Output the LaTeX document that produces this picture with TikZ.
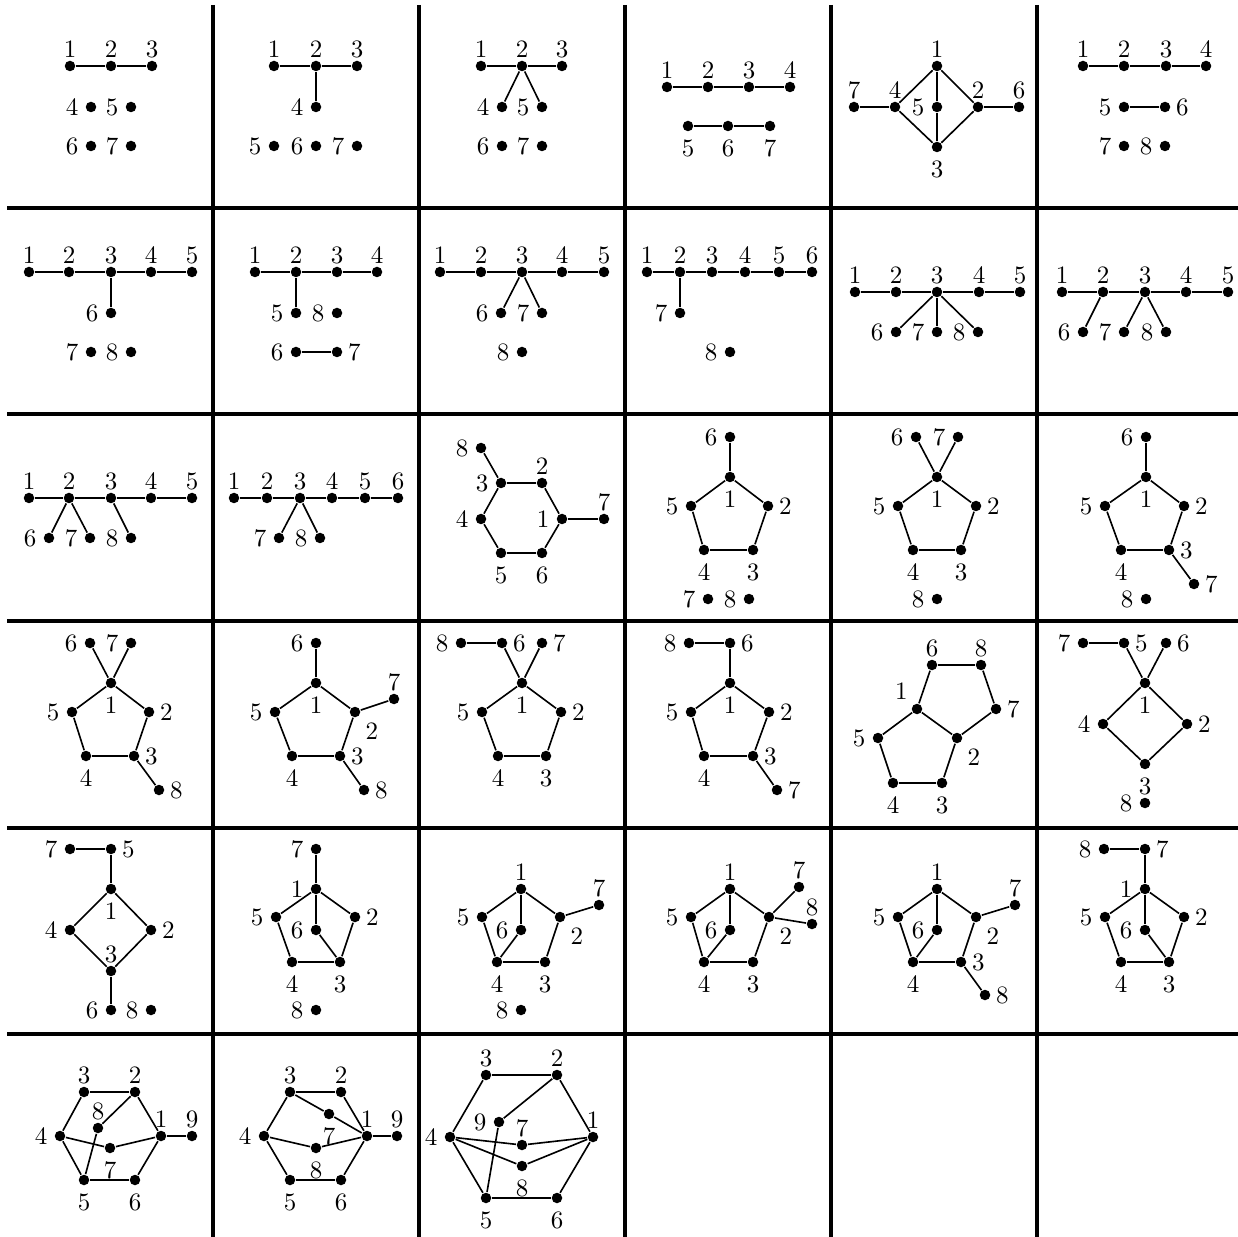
\documentclass[tikz,border=0pt]{standalone}
\usepackage{tikz}
\usetikzlibrary{positioning}

\begin{document}
\begin{tikzpicture}[x=0.4pt, y=-0.4pt, line width=0.65pt]
\tikzstyle{vx}=[circle, fill=black, inner sep=0pt, minimum size=4.2pt]
\tikzstyle{lu}=[label={[inner sep=0.5pt]above:#1}]
\tikzstyle{ld}=[label={[inner sep=2.7pt]below:#1}]
\tikzstyle{ll}=[label={[inner sep=2.3pt]left:#1}]
\tikzstyle{lr}=[label={[inner sep=1.7pt]right:#1}]
\tikzstyle{ldr}=[label={[inner sep=2.2pt]below right:#1}]
\tikzstyle{lul}=[label={[inner sep=1.7pt]above left:#1}]
\tikzstyle{grid}=[line width=1.5pt]
\useasboundingbox (0,0) rectangle (1238,1237);
% grid
\foreach \gx in {213,419,625,831,1037} \draw[grid] (\gx,5) -- (\gx,1237);
\foreach \gy in {208,414,621,828,1034} \draw[grid] (7,\gy) -- (1238,\gy);
% row 1
\begin{scope}[name prefix=g11-]
\node[vx,lu=1] (1) at (70,66) {};
\node[vx,lu=2] (2) at (111,66) {};
\node[vx,lu=3] (3) at (152,66) {};
\node[vx,ll=4] (4) at (91,107) {};
\node[vx,ll=5] (5) at (131,107) {};
\node[vx,ll=6] (6) at (91,146) {};
\node[vx,ll=7] (7) at (131,146) {};
\draw (1) -- (2) -- (3);
\end{scope}
\begin{scope}[name prefix=g12-]
\node[vx,lu=1] (1) at (274,66) {};
\node[vx,lu=2] (2) at (316,66) {};
\node[vx,lu=3] (3) at (357,66) {};
\node[vx,ll=4] (4) at (316,107) {};
\node[vx,ll=5] (5) at (274,146) {};
\node[vx,ll=6] (6) at (316,146) {};
\node[vx,ll=7] (7) at (357,146) {};
\draw (1) -- (2) -- (3);
\draw (2) -- (4);
\end{scope}
\begin{scope}[name prefix=g13-]
\node[vx,lu=1] (1) at (481,66) {};
\node[vx,lu=2] (2) at (522,66) {};
\node[vx,lu=3] (3) at (562,66) {};
\node[vx,ll=4] (4) at (502,107) {};
\node[vx,ll=5] (5) at (542,107) {};
\node[vx,ll=6] (6) at (502,146) {};
\node[vx,ll=7] (7) at (542,146) {};
\draw (1) -- (2) -- (3);
\draw (4) -- (2) -- (5);
\end{scope}
\begin{scope}[name prefix=g14-]
\node[vx,lu=1] (1) at (667,87) {};
\node[vx,lu=2] (2) at (708,87) {};
\node[vx,lu=3] (3) at (749,87) {};
\node[vx,lu=4] (4) at (790,87) {};
\node[vx,ld=5] (5) at (688,126) {};
\node[vx,ld=6] (6) at (728,126) {};
\node[vx,ld=7] (7) at (770,126) {};
\draw (1) -- (2) -- (3) -- (4);
\draw (5) -- (6) -- (7);
\end{scope}
\begin{scope}[name prefix=g15-]
\node[vx,lu=1] (1) at (937,66) {};
\node[vx,lu=7] (7) at (854,107) {};
\node[vx,lu=4] (4) at (895,107) {};
\node[vx,ll=5] (5) at (937,107) {};
\node[vx,lu=2] (2) at (978,107) {};
\node[vx,lu=6] (6) at (1019,107) {};
\node[vx,ld=3] (3) at (937,147) {};
\draw (7) -- (4) -- (1) -- (2) -- (6);
\draw (4) -- (3) -- (2);
\draw (1) -- (5) -- (3);
\end{scope}
\begin{scope}[name prefix=g16-]
\node[vx,lu=1] (1) at (1083,66) {};
\node[vx,lu=2] (2) at (1124,66) {};
\node[vx,lu=3] (3) at (1166,66) {};
\node[vx,lu=4] (4) at (1206,66) {};
\node[vx,ll=5] (5) at (1124,107) {};
\node[vx,lr=6] (6) at (1165,107) {};
\node[vx,ll=7] (7) at (1124,146) {};
\node[vx,ll=8] (8) at (1165,146) {};
\draw (1) -- (2) -- (3) -- (4);
\draw (5) -- (6);
\end{scope}
% row 2
\begin{scope}[name prefix=g21-]
\node[vx,lu=1] (1) at (29,272) {};
\node[vx,lu=2] (2) at (69,272) {};
\node[vx,lu=3] (3) at (111,272) {};
\node[vx,lu=4] (4) at (151,272) {};
\node[vx,lu=5] (5) at (192,272) {};
\node[vx,ll=6] (6) at (111,313) {};
\node[vx,ll=7] (7) at (91,352) {};
\node[vx,ll=8] (8) at (131,352) {};
\draw (1) -- (2) -- (3) -- (4) -- (5);
\draw (3) -- (6);
\end{scope}
\begin{scope}[name prefix=g22-]
\node[vx,lu=1] (1) at (255,272) {};
\node[vx,lu=2] (2) at (296,272) {};
\node[vx,lu=3] (3) at (337,272) {};
\node[vx,lu=4] (4) at (377,272) {};
\node[vx,ll=5] (5) at (296,313) {};
\node[vx,ll=8] (8) at (337,313) {};
\node[vx,ll=6] (6) at (296,352) {};
\node[vx,lr=7] (7) at (337,352) {};
\draw (1) -- (2) -- (3) -- (4);
\draw (2) -- (5);
\draw (6) -- (7);
\end{scope}
\begin{scope}[name prefix=g23-]
\node[vx,lu=1] (1) at (440,272) {};
\node[vx,lu=2] (2) at (481,272) {};
\node[vx,lu=3] (3) at (522,272) {};
\node[vx,lu=4] (4) at (562,272) {};
\node[vx,lu=5] (5) at (604,272) {};
\node[vx,ll=6] (6) at (501,313) {};
\node[vx,ll=7] (7) at (542,313) {};
\node[vx,ll=8] (8) at (522,352) {};
\draw (1) -- (2) -- (3) -- (4) -- (5);
\draw (6) -- (3) -- (7);
\end{scope}
\begin{scope}[name prefix=g24-]
\node[vx,lu=1] (1) at (647,272) {};
\node[vx,lu=2] (2) at (680,272) {};
\node[vx,lu=3] (3) at (712,272) {};
\node[vx,lu=4] (4) at (745,272) {};
\node[vx,lu=5] (5) at (779,272) {};
\node[vx,lu=6] (6) at (812,272) {};
\node[vx,ll=7] (7) at (680,313) {};
\node[vx,ll=8] (8) at (730,352) {};
\draw (1) -- (2) -- (3) -- (4) -- (5) -- (6);
\draw (2) -- (7);
\end{scope}
\begin{scope}[name prefix=g25-]
\node[vx,lu=1] (1) at (855,292) {};
\node[vx,lu=2] (2) at (896,292) {};
\node[vx,lu=3] (3) at (937,292) {};
\node[vx,lu=4] (4) at (979,292) {};
\node[vx,lu=5] (5) at (1020,292) {};
\node[vx,ll=6] (6) at (896,332) {};
\node[vx,ll=7] (7) at (937,332) {};
\node[vx,ll=8] (8) at (978,332) {};
\draw (1) -- (2) -- (3) -- (4) -- (5);
\draw (6) -- (3) -- (7);
\draw (3) -- (8);
\end{scope}
\begin{scope}[name prefix=g26-]
\node[vx,lu=1] (1) at (1062,292) {};
\node[vx,lu=2] (2) at (1103,292) {};
\node[vx,lu=3] (3) at (1145,292) {};
\node[vx,lu=4] (4) at (1186,292) {};
\node[vx,lu=5] (5) at (1228,292) {};
\node[vx,ll=6] (6) at (1083,332) {};
\node[vx,ll=7] (7) at (1124,332) {};
\node[vx,ll=8] (8) at (1166,332) {};
\draw (1) -- (2) -- (3) -- (4) -- (5);
\draw (2) -- (6);
\draw (7) -- (3) -- (8);
\end{scope}
% row 3
\begin{scope}[name prefix=g31-]
\node[vx,lu=1] (1) at (29,498) {};
\node[vx,lu=2] (2) at (69,498) {};
\node[vx,lu=3] (3) at (111,498) {};
\node[vx,lu=4] (4) at (151,498) {};
\node[vx,lu=5] (5) at (192,498) {};
\node[vx,ll=6] (6) at (49,538) {};
\node[vx,ll=7] (7) at (90,538) {};
\node[vx,ll=8] (8) at (131,538) {};
\draw (1) -- (2) -- (3) -- (4) -- (5);
\draw (6) -- (2) -- (7);
\draw (3) -- (8);
\end{scope}
\begin{scope}[name prefix=g32-]
\node[vx,lu=1] (1) at (234,498) {};
\node[vx,lu=2] (2) at (267,498) {};
\node[vx,lu=3] (3) at (300,498) {};
\node[vx,lu=4] (4) at (332,498) {};
\node[vx,lu=5] (5) at (365,498) {};
\node[vx,lu=6] (6) at (398,498) {};
\node[vx,ll=7] (7) at (279,538) {};
\node[vx,ll=8] (8) at (320,538) {};
\draw (1) -- (2) -- (3) -- (4) -- (5) -- (6);
\draw (7) -- (3) -- (8);
\end{scope}
\begin{scope}[name prefix=g33-]
\node[vx,ll=8] (8) at (481,448) {};
\node[vx,ll=3] (3) at (501,483) {};
\node[vx,lu=2] (2) at (542,483) {};
\node[vx,ll=4] (4) at (481,519) {};
\node[vx,ll=1] (1) at (562,519) {};
\node[vx,lu=7] (7) at (604,519) {};
\node[vx,ld=5] (5) at (501,553) {};
\node[vx,ld=6] (6) at (542,553) {};
\draw (8) -- (3);
\draw (3) -- (2) -- (1) -- (6) -- (5) -- (4) -- (3);
\draw (1) -- (7);
\end{scope}
\begin{scope}[name prefix=g34-]
\node[vx,ll=6] (6) at (730,437) {};
\node[vx,ld=1] (1) at (730,477) {};
\node[vx,ll=5] (5) at (691,506) {};
\node[vx,lr=2] (2) at (768,506) {};
\node[vx,ld=4] (4) at (704,550) {};
\node[vx,ld=3] (3) at (753,550) {};
\node[vx,ll=7] (7) at (708,599) {};
\node[vx,ll=8] (8) at (749,599) {};
\draw (6) -- (1);
\draw (1) -- (2) -- (3) -- (4) -- (5) -- (1);
\end{scope}
\begin{scope}[name prefix=g35-]
\node[vx,ll=6] (6) at (916,437) {};
\node[vx,ll=7] (7) at (958,437) {};
\node[vx,ld=1] (1) at (937,477) {};
\node[vx,ll=5] (5) at (898,506) {};
\node[vx,lr=2] (2) at (976,506) {};
\node[vx,ld=4] (4) at (913,550) {};
\node[vx,ld=3] (3) at (961,550) {};
\node[vx,ll=8] (8) at (937,599) {};
\draw (6) -- (1) -- (7);
\draw (1) -- (2) -- (3) -- (4) -- (5) -- (1);
\end{scope}
\begin{scope}[name prefix=g36-]
\node[vx,ll=6] (6) at (1146,437) {};
\node[vx,ld=1] (1) at (1146,477) {};
\node[vx,ll=5] (5) at (1105,506) {};
\node[vx,lr=2] (2) at (1184,506) {};
\node[vx,ld=4] (4) at (1121,550) {};
\node[vx,lr=3] (3) at (1169,550) {};
\node[vx,lr=7] (7) at (1194,584) {};
\node[vx,ll=8] (8) at (1146,599) {};
\draw (6) -- (1);
\draw (1) -- (2) -- (3) -- (4) -- (5) -- (1);
\draw (3) -- (7);
\end{scope}
% row 4
\begin{scope}[name prefix=g41-]
\node[vx,ll=6] (6) at (90,643) {};
\node[vx,ll=7] (7) at (131,643) {};
\node[vx,ld=1] (1) at (111,683) {};
\node[vx,ll=5] (5) at (72,712) {};
\node[vx,lr=2] (2) at (149,712) {};
\node[vx,ld=4] (4) at (86,756) {};
\node[vx,lr=3] (3) at (134,756) {};
\node[vx,lr=8] (8) at (159,790) {};
\draw (6) -- (1) -- (7);
\draw (1) -- (2) -- (3) -- (4) -- (5) -- (1);
\draw (3) -- (8);
\end{scope}
\begin{scope}[name prefix=g42-]
\node[vx,ll=6] (6) at (316,643) {};
\node[vx,ld=1] (1) at (316,683) {};
\node[vx,ll=5] (5) at (275,712) {};
\node[vx,ldr=2] (2) at (355,712) {};
\node[vx,lu=7] (7) at (394,699) {};
\node[vx,ld=4] (4) at (292,756) {};
\node[vx,lr=3] (3) at (340,756) {};
\node[vx,lr=8] (8) at (364,790) {};
\draw (6) -- (1);
\draw (1) -- (2) -- (3) -- (4) -- (5) -- (1);
\draw (2) -- (7);
\draw (3) -- (8);
\end{scope}
\begin{scope}[name prefix=g43-]
\node[vx,ll=8] (8) at (461,643) {};
\node[vx,lr=6] (6) at (502,643) {};
\node[vx,lr=7] (7) at (542,643) {};
\node[vx,ld=1] (1) at (522,683) {};
\node[vx,ll=5] (5) at (482,712) {};
\node[vx,lr=2] (2) at (561,712) {};
\node[vx,ld=4] (4) at (498,756) {};
\node[vx,ld=3] (3) at (546,756) {};
\draw (8) -- (6) -- (1) -- (7);
\draw (1) -- (2) -- (3) -- (4) -- (5) -- (1);
\end{scope}
\begin{scope}[name prefix=g44-]
\node[vx,ll=8] (8) at (689,643) {};
\node[vx,lr=6] (6) at (730,643) {};
\node[vx,ld=1] (1) at (730,683) {};
\node[vx,ll=5] (5) at (691,712) {};
\node[vx,lr=2] (2) at (769,712) {};
\node[vx,ld=4] (4) at (704,756) {};
\node[vx,lr=3] (3) at (753,756) {};
\node[vx,lr=7] (7) at (777,790) {};
\draw (8) -- (6) -- (1);
\draw (1) -- (2) -- (3) -- (4) -- (5) -- (1);
\draw (3) -- (7);
\end{scope}
\begin{scope}[name prefix=g45-]
\node[vx,lu=6] (6) at (932,665) {};
\node[vx,lu=8] (8) at (981,665) {};
\node[vx,lul=1] (1) at (917,709) {};
\node[vx,lr=7] (7) at (996,709) {};
\node[vx,ll=5] (5) at (878,738) {};
\node[vx,ldr=2] (2) at (957,738) {};
\node[vx,ld=4] (4) at (893,783) {};
\node[vx,ld=3] (3) at (942,783) {};
\draw (1) -- (6) -- (8) -- (7) -- (2) -- (1);
\draw (1) -- (5) -- (4) -- (3) -- (2);
\end{scope}
\begin{scope}[name prefix=g46-]
\node[vx,ll=7] (7) at (1083,643) {};
\node[vx,lr=5] (5) at (1124,643) {};
\node[vx,lr=6] (6) at (1166,643) {};
\node[vx,ld=1] (1) at (1145,683) {};
\node[vx,ll=4] (4) at (1103,724) {};
\node[vx,lr=2] (2) at (1187,724) {};
\node[vx,ld=3] (3) at (1145,764) {};
\node[vx,ll=8] (8) at (1145,803) {};
\draw (7) -- (5) -- (1) -- (6);
\draw (1) -- (4) -- (3) -- (2) -- (1);
\end{scope}
% row 5
\begin{scope}[name prefix=g51-]
\node[vx,ll=7] (7) at (70,849) {};
\node[vx,lr=5] (5) at (111,849) {};
\node[vx,ld=1] (1) at (111,889) {};
\node[vx,ll=4] (4) at (70,930) {};
\node[vx,lr=2] (2) at (151,930) {};
\node[vx,lu=3] (3) at (111,971) {};
\node[vx,ll=6] (6) at (111,1010) {};
\node[vx,ll=8] (8) at (151,1010) {};
\draw (7) -- (5) -- (1);
\draw (1) -- (2) -- (3) -- (4) -- (1);
\draw (3) -- (6);
\end{scope}
\begin{scope}[name prefix=g52-]
\node[vx,ll=7] (7) at (316,849) {};
\node[vx,ll=1] (1) at (316,889) {};
\node[vx,ll=5] (5) at (276,917) {};
\node[vx,lr=2] (2) at (355,917) {};
\node[vx,ll=6] (6) at (316,930) {};
\node[vx,ld=4] (4) at (292,962) {};
\node[vx,ld=3] (3) at (340,962) {};
\node[vx,ll=8] (8) at (316,1010) {};
\draw (7) -- (1) -- (6) -- (3);
\draw (1) -- (2) -- (3) -- (4) -- (5) -- (1);
\end{scope}
\begin{scope}[name prefix=g53-]
\node[vx,lu=1] (1) at (521,889) {};
\node[vx,lu=7] (7) at (599,905) {};
\node[vx,ll=5] (5) at (482,917) {};
\node[vx,ldr=2] (2) at (560,917) {};
\node[vx,ll=6] (6) at (521,930) {};
\node[vx,ld=4] (4) at (497,962) {};
\node[vx,ld=3] (3) at (545,962) {};
\node[vx,ll=8] (8) at (521,1010) {};
\draw (1) -- (6) -- (4);
\draw (1) -- (2) -- (3) -- (4) -- (5) -- (1);
\draw (2) -- (7);
\end{scope}
\begin{scope}[name prefix=g54-]
\node[vx,lu=1] (1) at (730,889) {};
\node[vx,lu=7] (7) at (799,887) {};
\node[vx,lu=8] (8) at (812,924) {};
\node[vx,ll=5] (5) at (691,917) {};
\node[vx,ldr=2] (2) at (769,917) {};
\node[vx,ll=6] (6) at (730,930) {};
\node[vx,ld=4] (4) at (704,962) {};
\node[vx,ld=3] (3) at (753,962) {};
\draw (1) -- (6) -- (4);
\draw (1) -- (2) -- (3) -- (4) -- (5) -- (1);
\draw (7) -- (2) -- (8);
\end{scope}
\begin{scope}[name prefix=g55-]
\node[vx,lu=1] (1) at (937,889) {};
\node[vx,lu=7] (7) at (1015,905) {};
\node[vx,ll=5] (5) at (898,917) {};
\node[vx,ldr=2] (2) at (976,917) {};
\node[vx,ll=6] (6) at (937,930) {};
\node[vx,ld=4] (4) at (913,962) {};
\node[vx,lr=3] (3) at (961,962) {};
\node[vx,lr=8] (8) at (985,995) {};
\draw (1) -- (6) -- (4);
\draw (1) -- (2) -- (3) -- (4) -- (5) -- (1);
\draw (2) -- (7);
\draw (3) -- (8);
\end{scope}
\begin{scope}[name prefix=g56-]
\node[vx,ll=8] (8) at (1104,849) {};
\node[vx,lr=7] (7) at (1145,849) {};
\node[vx,ll=1] (1) at (1145,889) {};
\node[vx,ll=5] (5) at (1105,917) {};
\node[vx,lr=2] (2) at (1184,917) {};
\node[vx,ll=6] (6) at (1145,930) {};
\node[vx,ld=4] (4) at (1121,962) {};
\node[vx,ld=3] (3) at (1169,962) {};
\draw (8) -- (7) -- (1) -- (6) -- (3);
\draw (1) -- (2) -- (3) -- (4) -- (5) -- (1);
\end{scope}
% row 6
\begin{scope}[name prefix=g61-]
\node[vx,lu=3] (3) at (84,1092) {};
\node[vx,lu=2] (2) at (135,1092) {};
\node[vx,ll=4] (4) at (60,1136) {};
\node[vx,lu=1] (1) at (161,1136) {};
\node[vx,lu=9] (9) at (192,1136) {};
\node[vx,lu=8] (8) at (98,1128) {};
\node[vx,ld=7] (7) at (110,1148) {};
\node[vx,ld=5] (5) at (84,1180) {};
\node[vx,ld=6] (6) at (135,1180) {};
\draw (1) -- (2) -- (3) -- (4) -- (5) -- (6) -- (1);
\draw (1) -- (9);
\draw (2) -- (8) -- (5);
\draw (4) -- (7) -- (1);
\end{scope}
\begin{scope}[name prefix=g62-]
\node[vx,lu=3] (3) at (290,1092) {};
\node[vx,lu=2] (2) at (341,1092) {};
\node[vx,ll=4] (4) at (264,1136) {};
\node[vx,lu=1] (1) at (367,1136) {};
\node[vx,lu=9] (9) at (397,1136) {};
\node[vx,ld=7] (7) at (329,1114) {};
\node[vx,ld=8] (8) at (316,1148) {};
\node[vx,ld=5] (5) at (290,1180) {};
\node[vx,ld=6] (6) at (341,1180) {};
\draw (1) -- (2) -- (3) -- (4) -- (5) -- (6) -- (1);
\draw (1) -- (9);
\draw (3) -- (7) -- (1);
\draw (4) -- (8) -- (1);
\end{scope}
\begin{scope}[name prefix=g63-]
\node[vx,lu=3] (3) at (486,1075) {};
\node[vx,lu=2] (2) at (557,1075) {};
\node[vx,ll=4] (4) at (450,1137) {};
\node[vx,lu=1] (1) at (593,1137) {};
\node[vx,ll=9] (9) at (499,1122) {};
\node[vx,lu=7] (7) at (522,1145) {};
\node[vx,ld=8] (8) at (522,1166) {};
\node[vx,ld=5] (5) at (486,1198) {};
\node[vx,ld=6] (6) at (557,1198) {};
\draw (1) -- (2) -- (3) -- (4) -- (5) -- (6) -- (1);
\draw (2) -- (9) -- (5);
\draw (4) -- (7) -- (1);
\draw (4) -- (8) -- (1);
\end{scope}
\end{tikzpicture}
\end{document}
